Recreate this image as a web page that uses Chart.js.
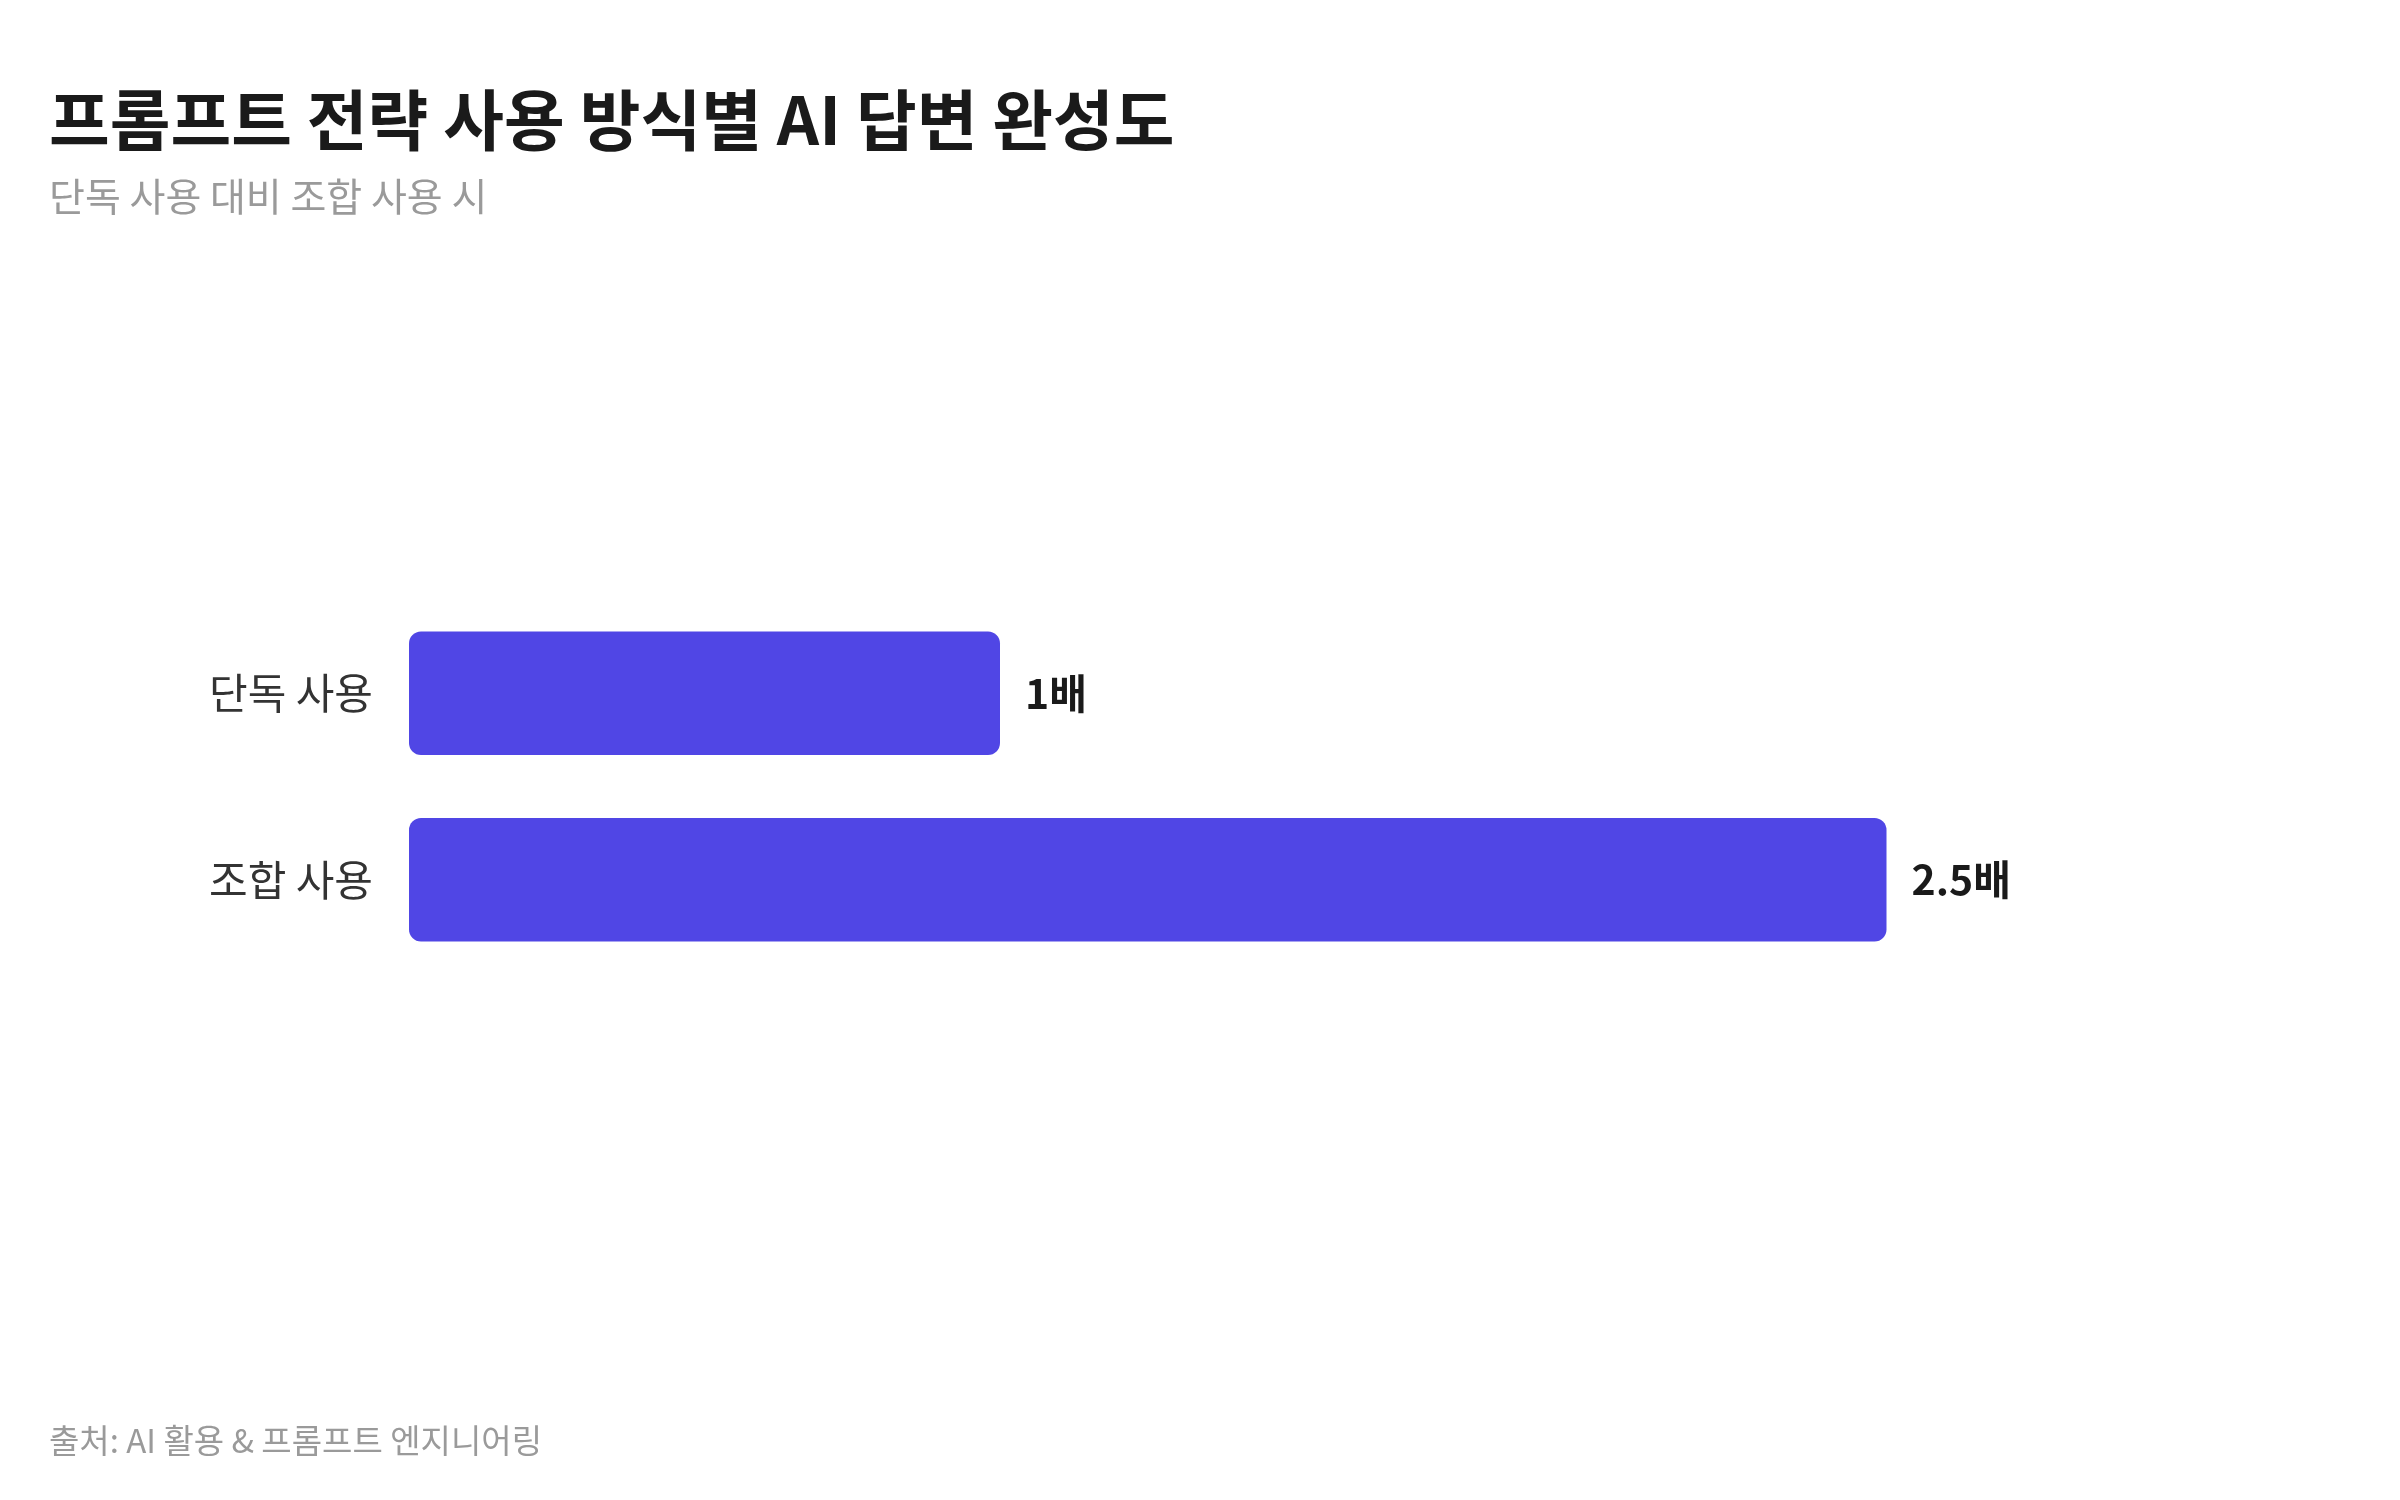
<!DOCTYPE html>
<html><head><meta charset="utf-8">
<script src="https://cdn.jsdelivr.net/npm/chart.js@4"></script>
<style>
  body{margin:0;background:#fff;font-family:"Noto Sans CJK KR","Noto Sans",sans-serif;}
  #wrap{position:relative;width:2400px;height:1500px;}
  canvas{position:absolute;left:0;top:0;}
  .t{position:absolute;left:49px;white-space:nowrap;}
  #title{top:68px;font-size:66px;font-weight:700;color:#1a1a1a;}
  #sub{top:166px;font-size:39px;color:#9a9a9a;}
  #src{top:1415px;font-size:33px;color:#9a9a9a;}
</style></head>
<body><div id="wrap">
<canvas id="c" width="2400" height="1500"></canvas>
<div class="t" id="title">프롬프트 전략 사용 방식별 AI 답변 완성도</div>
<div class="t" id="sub">단독 사용 대비 조합 사용 시</div>
<div class="t" id="src">출처: AI 활용 &amp; 프롬프트 엔지니어링</div>
</div>
<script>
// ── 데이터 ──
const categorias = ["단독 사용", "조합 사용"];
const valores = [1, 2.5];
const etiquetas = ["1배", "2.5배"];

const FUENTE = '"Noto Sans CJK KR","Noto Sans",sans-serif';

// Etiqueta de valor al final de cada barra
const etiquetaValor = {
  id: "etiquetaValor",
  afterDatasetsDraw(chart) {
    const ctx = chart.ctx;
    ctx.save();
    ctx.font = `700 41px ${FUENTE}`;
    ctx.fillStyle = "#1a1a1a";
    ctx.textBaseline = "middle";
    chart.getDatasetMeta(0).data.forEach((bar, i) => {
      ctx.fillText(etiquetas[i], bar.x + 25, bar.y);
    });
    ctx.restore();
  }
};

new Chart(document.getElementById("c"), {
  type: "bar",
  data: {
    labels: categorias,
    datasets: [{
      data: valores,
      backgroundColor: "#5046E5",
      borderRadius: 12,
      borderSkipped: false,
      categoryPercentage: 1,
      barPercentage: 0.663
    }]
  },
  options: {
    indexAxis: "y",
    responsive: false,
    devicePixelRatio: 1,
    animation: false,
    layout: { padding: { top: 600, bottom: 527, right: 218, left: 0 } },
    plugins: { legend: { display: false }, tooltip: { enabled: false } },
    scales: {
      x: { min: 0, max: 3, display: false },
      y: {
        grid: { display: false },
        border: { display: false },
        ticks: { color: "#333", padding: 28, font: { family: FUENTE, size: 42 } },
        afterFit: (s) => { s.width = 409; }
      }
    }
  },
  plugins: [etiquetaValor]
});
</script>
</body></html>
